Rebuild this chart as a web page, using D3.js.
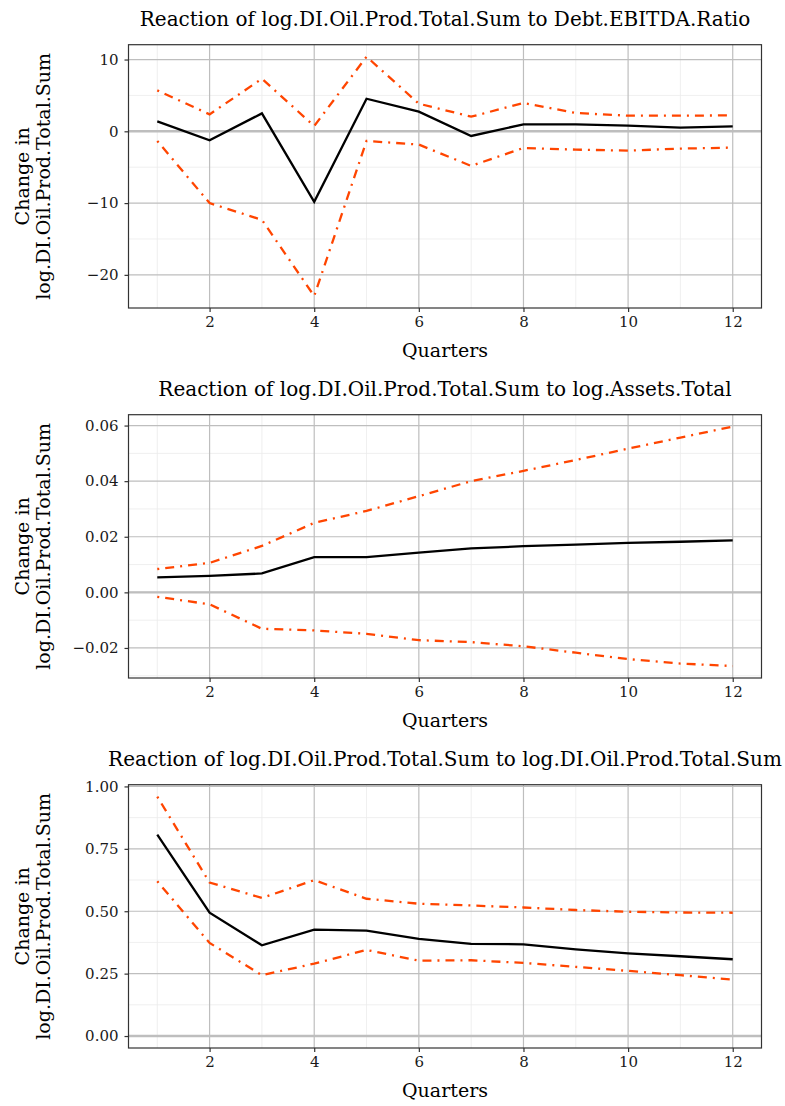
<!DOCTYPE html>
<html>
<head>
<meta charset="utf-8">
<script src="https://cdn.jsdelivr.net/npm/d3@7"></script>
<style>
  body { margin: 0; background: #fff; }
  text { font-family: "DejaVu Serif", serif; }
</style>
</head>
<body>
<div id="chart"></div>
<script>
// impulse response data
var quarters = [1, 2, 3, 4, 5, 6, 7, 8, 9, 10, 11, 12];

var debtResp  = [1.39, -1.25, 2.5, -9.83, 4.54, 2.74, -0.65, 0.97, 0.97, 0.79, 0.5, 0.7];
var debtUpper = [5.7, 2.36, 7.33, 0.74, 10.4, 3.85, 2.04, 3.94, 2.55, 2.18, 2.18, 2.22];
var debtLower = [-1.34, -10.0, -12.33, -22.95, -1.34, -1.85, -4.82, -2.32, -2.55, -2.69, -2.41, -2.27];

var assetsResp  = [0.0054, 0.0059, 0.0068, 0.0127, 0.0127, 0.0143, 0.0158, 0.0166, 0.0172, 0.0178, 0.0182, 0.0187];
var assetsUpper = [0.0084, 0.0106, 0.0167, 0.025, 0.0293, 0.0346, 0.040, 0.0437, 0.0476, 0.0517, 0.0557, 0.0596];
var assetsLower = [-0.0016, -0.0043, -0.0131, -0.0137, -0.0149, -0.0172, -0.0179, -0.0194, -0.0217, -0.024, -0.0256, -0.0265];

var oilResp  = [0.807, 0.494, 0.3635, 0.426, 0.422, 0.389, 0.369, 0.3675, 0.3475, 0.3315, 0.3196, 0.3076];
var oilUpper = [0.959, 0.615, 0.553, 0.6245, 0.55, 0.53, 0.523, 0.515, 0.505, 0.498, 0.495, 0.494];
var oilLower = [0.62, 0.373, 0.2437, 0.29, 0.345, 0.302, 0.3036, 0.293, 0.277, 0.261, 0.2437, 0.2264];

var titles = [
  "Reaction of log.DI.Oil.Prod.Total.Sum to Debt.EBITDA.Ratio",
  "Reaction of log.DI.Oil.Prod.Total.Sum to log.Assets.Total",
  "Reaction of log.DI.Oil.Prod.Total.Sum to log.DI.Oil.Prod.Total.Sum"
];
var xTicks = [2, 4, 6, 8, 10, 12];
var yTicks = [
  [10, 0, -10, -20],
  [0.06, 0.04, 0.02, 0.00, -0.02],
  [1.00, 0.75, 0.50, 0.25, 0.00]
];
var yFormats = [d3.format("d"), d3.format(".2f"), d3.format(".2f")];
var yLabel = ["Change in", "log.DI.Oil.Prod.Total.Sum"];
var xLabel = "Quarters";

var panels = [
  {resp: debtResp, upper: debtUpper, lower: debtLower},
  {resp: assetsResp, upper: assetsUpper, lower: assetsLower},
  {resp: oilResp, upper: oilUpper, lower: oilLower}
];

var width = 785, height = 1106;
var left = 128.5, right = 761.5;
var plotH = 263.3, panelStep = 370, firstTop = 44.7;

var svg = d3.select("#chart").append("svg")
    .attr("width", width)
    .attr("height", height);

var red = "#ff4500";

panels.forEach(function (p, k) {
    var top = firstTop + k * panelStep;
    var bottom = top + plotH;

    // x scale with ggplot's 5% padding
    var x = d3.scaleLinear().domain([0.45, 12.55]).range([left, right]);

    // y domain includes the zero line, then padded
    var all = p.resp.concat(p.upper, p.lower, [0]);
    var lo = d3.min(all), hi = d3.max(all), pad = (hi - lo) * 0.05;
    var y = d3.scaleLinear().domain([lo - pad, hi + pad]).range([bottom, top]);

    var g = svg.append("g");

    // minor gridlines
    var xMinor = d3.range(1, 13, 2);
    var yMaj = yTicks[k];
    var step = Math.abs(yMaj[0] - yMaj[1]);
    var yMinor = [];
    for (var v = d3.min(yMaj) - step / 2; v <= d3.max(yMaj) + step; v += step) {
        if (v >= y.domain()[0] && v <= y.domain()[1]) yMinor.push(v);
    }
    g.selectAll(".xminor").data(xMinor).enter().append("line")
        .attr("x1", x).attr("x2", x).attr("y1", top).attr("y2", bottom)
        .attr("stroke", "#ebebeb").attr("stroke-width", 0.8);
    g.selectAll(".yminor").data(yMinor).enter().append("line")
        .attr("x1", left).attr("x2", right).attr("y1", y).attr("y2", y)
        .attr("stroke", "#ebebeb").attr("stroke-width", 0.8);

    // major gridlines
    g.selectAll(".xmajor").data(xTicks).enter().append("line")
        .attr("x1", x).attr("x2", x).attr("y1", top).attr("y2", bottom)
        .attr("stroke", "#bebebe").attr("stroke-width", 1.2);
    g.selectAll(".ymajor").data(yMaj).enter().append("line")
        .attr("x1", left).attr("x2", right).attr("y1", y).attr("y2", y)
        .attr("stroke", "#bebebe").attr("stroke-width", 1.2);

    // zero reference line
    g.append("line")
        .attr("x1", left).attr("x2", right).attr("y1", y(0)).attr("y2", y(0))
        .attr("stroke", "#bebebe").attr("stroke-width", 2.4);

    var line = d3.line()
        .x(function (d, i) { return x(quarters[i]); })
        .y(function (d) { return y(d); });

    [p.upper, p.lower].forEach(function (s) {
        g.append("path")
            .attr("d", line(s))
            .attr("fill", "none")
            .attr("stroke", red)
            .attr("stroke-width", 2.3)
            .attr("stroke-dasharray", "2,6,9,6");
    });
    g.append("path")
        .attr("d", line(p.resp))
        .attr("fill", "none")
        .attr("stroke", "#000")
        .attr("stroke-width", 2.3);

    // panel border
    g.append("rect")
        .attr("x", left).attr("y", top)
        .attr("width", right - left).attr("height", plotH)
        .attr("fill", "none").attr("stroke", "#333").attr("stroke-width", 1.2);

    // axes
    var xAxis = g.append("g")
        .attr("transform", "translate(0," + bottom + ")")
        .call(d3.axisBottom(x).tickValues(xTicks).tickSize(4).tickPadding(4));
    var yAxis = g.append("g")
        .attr("transform", "translate(" + left + ",0)")
        .call(d3.axisLeft(y).tickValues(yMaj).tickFormat(yFormats[k]).tickSize(4).tickPadding(6));
    [xAxis, yAxis].forEach(function (a) {
        a.select(".domain").remove();
        a.selectAll(".tick line").attr("stroke", "#333").attr("stroke-width", 1.2);
        a.selectAll("text").attr("font-size", 15).attr("fill", "#1a1a1a")
            .style("font-family", "'DejaVu Serif', serif");
    });
    yAxis.selectAll(".tick text").text(function (d) {
        return yFormats[k](d).replace("-", "\u2212");
    });

    // titles
    g.append("text")
        .attr("x", (left + right) / 2).attr("y", top - 18.5)
        .attr("text-anchor", "middle")
        .attr("font-size", 20)
        .text(titles[k]);
    g.append("text")
        .attr("x", (left + right) / 2).attr("y", bottom + 49)
        .attr("text-anchor", "middle")
        .attr("font-size", 19)
        .text(xLabel);
    var cy = (top + bottom) / 2;
    yLabel.forEach(function (t, i) {
        g.append("text")
            .attr("transform", "translate(" + (22 + i * 20.5) + "," + cy + ") rotate(-90)")
            .attr("text-anchor", "middle")
            .attr("dominant-baseline", "central")
            .attr("font-size", 19)
            .text(t);
    });
});
</script>
</body>
</html>
